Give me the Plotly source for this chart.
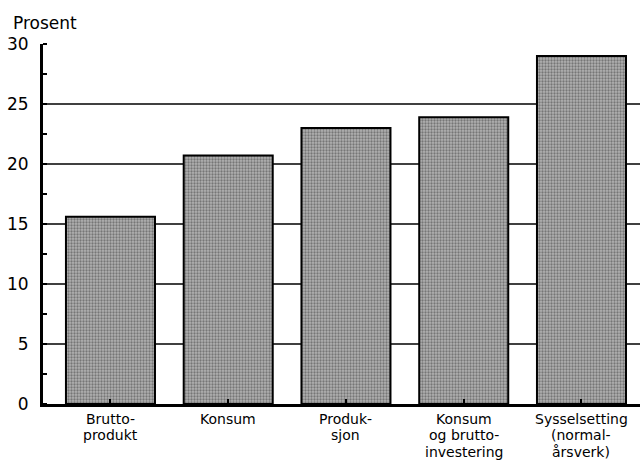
import plotly.graph_objects as go

# DATA
categories = ["Bruttoprodukt", "Konsum", "Produksjon",
              "Konsum og bruttoinvestering", "Sysselsetting (normalårsverk)"]
label_lines = [["Brutto-", "produkt"],
               ["Konsum"],
               ["Produk-", "sjon"],
               ["Konsum", "og brutto-", "investering"],
               ["Sysselsetting", "(normal-", "årsverk)"]]
values = [15.6, 20.7, 23.0, 23.9, 29.0]
y_ticks = [0, 5, 10, 15, 20, 25, 30]
grid_lines = [5, 10, 15, 20, 25]

FONT = "DejaVu Sans, Liberation Sans, sans-serif"

def main():
    xs = list(range(len(categories)))

    fig = go.Figure()
    fig.add_trace(go.Bar(
        x=xs, y=values, width=0.756,
        marker=dict(color="#b2b2b2",
                    line=dict(color="black", width=2),
                    pattern=dict(shape=".", fgcolor="#3a3a3a", bgcolor="#b2b2b2",
                                 size=3, solidity=0.45)),
        hoverinfo="skip", showlegend=False))

    #GRID as lines behind bars
    for g in grid_lines:
        fig.add_shape(type="line", xref="paper", x0=0, x1=1, yref="y", y0=g, y1=g,
                      line=dict(color="black", width=1.5), layer="below")

    #CATEGORY LABELS, one annotation per line (tight spacing)
    for i, lines in enumerate(label_lines):
        for j, t in enumerate(lines):
            fig.add_annotation(x=i, y=0, xref="x", yref="paper", text=t,
                               showarrow=False, xanchor="center", yanchor="middle",
                               borderpad=0,
                               yshift=-15 - 16.4 * j,
                               font=dict(family=FONT, size=14, color="black"))

    fig.add_annotation(x=0, y=1, xref="paper", yref="paper", text="Prosent",
                       showarrow=False, xanchor="left", yanchor="bottom",
                       xshift=-32, yshift=9,
                       font=dict(family=FONT, size=17, color="black"))

    fig.update_layout(
        width=640, height=461,
        margin=dict(l=43, r=0, t=44, b=57),
        paper_bgcolor="white", plot_bgcolor="white",
        font=dict(family=FONT, color="black"),
        xaxis=dict(range=[-0.573, 4.497], tickvals=xs, ticktext=["" for _ in xs],
                   ticks="inside", ticklen=5, tickwidth=1.5, tickcolor="black",
                   showline=True, linecolor="black", linewidth=3,
                   showgrid=False, zeroline=False, fixedrange=True),
        yaxis=dict(range=[0, 30], tickvals=y_ticks,
                   ticks="", ticklabelstandoff=8,
                   tickfont=dict(family=FONT, size=17, color="black"),
                   minor=dict(dtick=2.5, ticks="inside", ticklen=4, tickwidth=1.5,
                              tickcolor="black", showgrid=False),
                   showline=True, linecolor="black", linewidth=3,
                   showgrid=False, zeroline=False, fixedrange=True),
    )

    #OUTPUT (drop the default page margin so the chart fills the window)
    fig.write_html("out.html", config={"displayModeBar": False},
                   post_script="document.body.style.margin='0';")

if __name__ == "__main__":
    main()
